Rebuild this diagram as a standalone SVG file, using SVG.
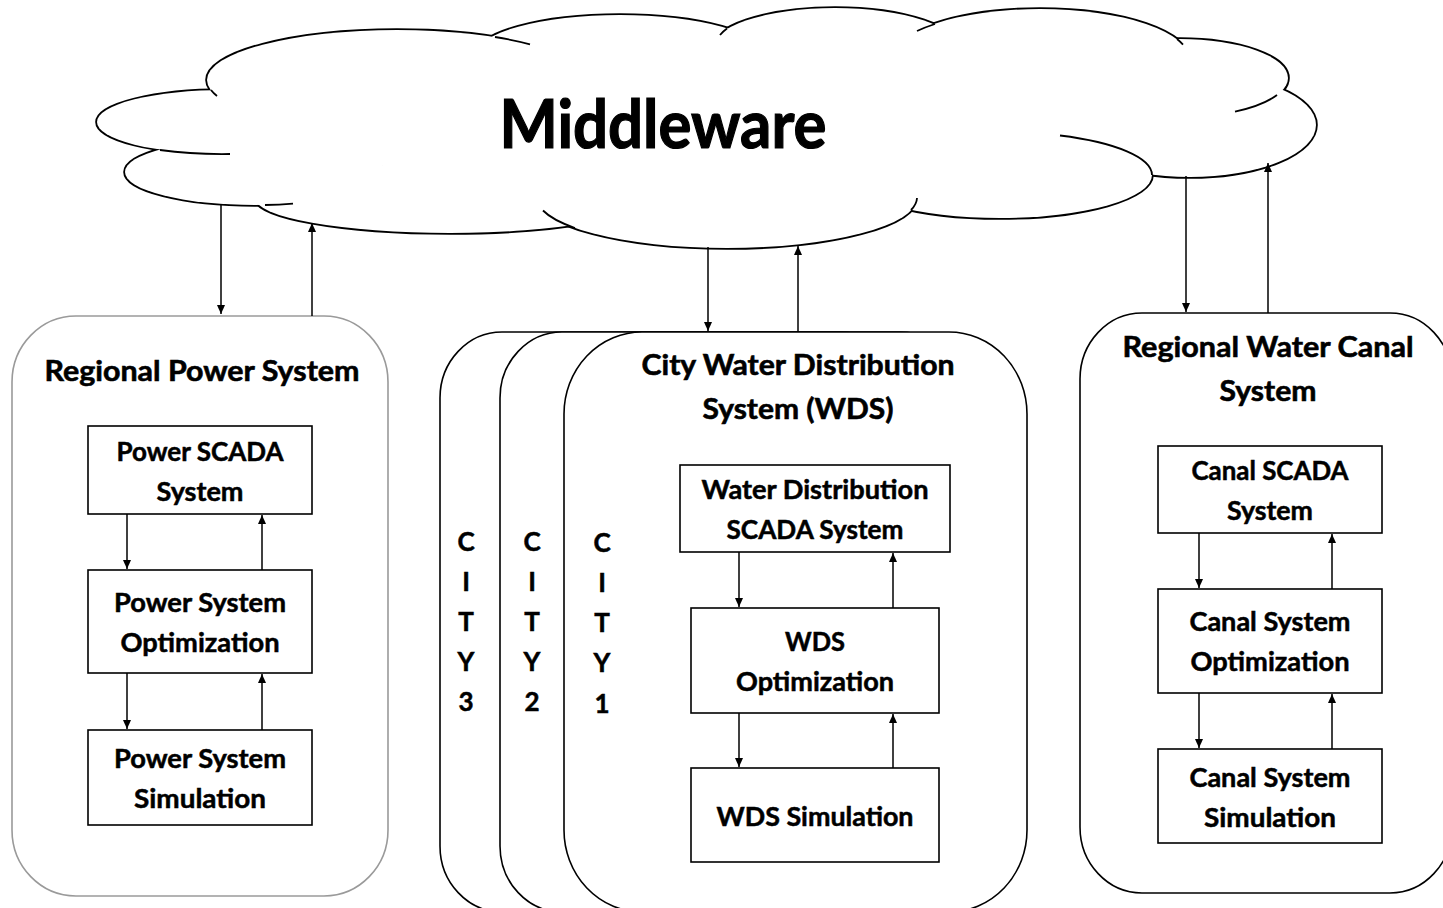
<svg xmlns="http://www.w3.org/2000/svg" width="1443" height="908" viewBox="0 0 1443 908">
<style>
text{font-family:Lato,"Liberation Sans",sans-serif;font-weight:bold;fill:#000;stroke:#000;stroke-width:0.5;text-anchor:middle}
.t{font-size:26px}
.h{font-size:29px;stroke-width:0.6}
.mw{font-size:66px;stroke-width:1.2}
.box{fill:#fff;stroke:#000;stroke-width:1.6}
.cont{fill:#fff;stroke:#000;stroke-width:1.6}
.cl1 ellipse{fill:#fff;stroke:#000;stroke-width:3.6}
.cl2 ellipse{fill:#fff;stroke:none}
.tail{fill:none;stroke:#000;stroke-width:1.8}
.ar{stroke:#000;stroke-width:1.5;marker-end:url(#ah)}
</style>
<defs>
<marker id="ah" markerWidth="9" markerHeight="8" refX="9" refY="4" orient="auto" markerUnits="userSpaceOnUse"><path d="M0,0 L9,4 L0,8 z" fill="#000"/></marker>
</defs>
<rect width="1443" height="908" fill="#fff"/>
<g id="middleware">
<g class="cl1">
<ellipse cx="397" cy="80" rx="190" ry="50"/>
<ellipse cx="225" cy="122" rx="128" ry="32"/>
<ellipse cx="255" cy="172" rx="130" ry="33"/>
<ellipse cx="450" cy="198" rx="195" ry="35"/>
<ellipse cx="727" cy="198" rx="190" ry="50"/>
<ellipse cx="1000" cy="175" rx="152" ry="43"/>
<ellipse cx="1190" cy="125" rx="126" ry="52"/>
<ellipse cx="1180" cy="78" rx="108" ry="39"/>
<ellipse cx="1040" cy="60" rx="150" ry="51"/>
<ellipse cx="620" cy="55" rx="144" ry="40"/>
<ellipse cx="835" cy="50" rx="125" ry="42"/>
</g>
<g class="cl2">
<ellipse cx="397" cy="80" rx="190" ry="50"/>
<ellipse cx="225" cy="122" rx="128" ry="32"/>
<ellipse cx="255" cy="172" rx="130" ry="33"/>
<ellipse cx="450" cy="198" rx="195" ry="35"/>
<ellipse cx="727" cy="198" rx="190" ry="50"/>
<ellipse cx="1000" cy="175" rx="152" ry="43"/>
<ellipse cx="1190" cy="125" rx="126" ry="52"/>
<ellipse cx="1180" cy="78" rx="108" ry="39"/>
<ellipse cx="1040" cy="60" rx="150" ry="51"/>
<ellipse cx="620" cy="55" rx="144" ry="40"/>
<ellipse cx="835" cy="50" rx="125" ry="42"/>
<ellipse cx="700" cy="120" rx="420" ry="70"/>
</g>
<path class="tail" d="M495,37 A190,50 0 0 1 530,44.3"/>
<path class="tail" d="M211,90 A190,50 0 0 0 217,96"/>
<path class="tail" d="M160,150 A128,32 0 0 0 230,154"/>
<path class="tail" d="M265,205 A130,33 0 0 0 293,203.6"/>
<path class="tail" d="M575,228 A190,50 0 0 1 543,210.5"/>
<path class="tail" d="M911,210 A190,50 0 0 0 917,198"/>
<path class="tail" d="M1060,135.5 A152,43 0 0 1 1152,175"/>
<path class="tail" d="M1277,95 A108,39 0 0 1 1235,111.6"/>
<path class="tail" d="M1177,39 A150,51 0 0 1 1183,44.6"/>
<path class="tail" d="M727,28.5 A125,42 0 0 0 720,35"/>
<path class="tail" d="M935,24 A150,51 0 0 0 917,31"/>
<text class="mw" x="663" y="148" textLength="327" lengthAdjust="spacingAndGlyphs">Middleware</text>
</g>
<g id="regional-power">
<rect x="12" y="316" width="376" height="580" rx="64" ry="66" fill="#fff" stroke="#9a9a9a" stroke-width="1.6"/>
<text class="h" x="202" y="381" textLength="315" lengthAdjust="spacingAndGlyphs">Regional Power System</text>
</g>
<g id="power-scada">
<rect class="box" x="88" y="426" width="224" height="88"/>
<text class="t" x="200" y="461" textLength="167" lengthAdjust="spacingAndGlyphs">Power SCADA</text>
<text class="t" x="200" y="501" textLength="87" lengthAdjust="spacingAndGlyphs">System</text>
</g>
<g id="power-opt">
<rect class="box" x="88" y="570" width="224" height="103"/>
<text class="t" x="200" y="612" textLength="172" lengthAdjust="spacingAndGlyphs">Power System</text>
<text class="t" x="200" y="652" textLength="159" lengthAdjust="spacingAndGlyphs">Optimization</text>
</g>
<g id="power-sim">
<rect class="box" x="88" y="730" width="224" height="95"/>
<text class="t" x="200" y="768" textLength="172" lengthAdjust="spacingAndGlyphs">Power System</text>
<text class="t" x="200" y="808" textLength="132" lengthAdjust="spacingAndGlyphs">Simulation</text>
</g>
<g id="city3">
<rect class="cont" x="440" y="332" width="463" height="580" rx="62" ry="66"/>
<text class="t" x="466" y="551">C</text>
<text class="t" x="466" y="591">I</text>
<text class="t" x="466" y="631">T</text>
<text class="t" x="466" y="671">Y</text>
<text class="t" x="466" y="711">3</text>
</g>
<g id="city2">
<rect class="cont" x="500" y="332" width="463" height="580" rx="62" ry="66"/>
<text class="t" x="532" y="551">C</text>
<text class="t" x="532" y="591">I</text>
<text class="t" x="532" y="631">T</text>
<text class="t" x="532" y="671">Y</text>
<text class="t" x="532" y="711">2</text>
</g>
<g id="city1">
<rect class="cont" x="564" y="332" width="463" height="580" rx="78" ry="82"/>
<text class="t" x="602" y="552">C</text>
<text class="t" x="602" y="592">I</text>
<text class="t" x="602" y="632">T</text>
<text class="t" x="602" y="672">Y</text>
<text class="t" x="602" y="713">1</text>
<text class="h" x="798" y="375" textLength="313" lengthAdjust="spacingAndGlyphs">City Water Distribution</text>
<text class="h" x="798" y="419" textLength="191" lengthAdjust="spacingAndGlyphs">System (WDS)</text>
</g>
<g id="wds-scada">
<rect class="box" x="680" y="465" width="270" height="87"/>
<text class="t" x="815" y="499" textLength="227" lengthAdjust="spacingAndGlyphs">Water Distribution</text>
<text class="t" x="815" y="539" textLength="177" lengthAdjust="spacingAndGlyphs">SCADA System</text>
</g>
<g id="wds-opt">
<rect class="box" x="691" y="608" width="248" height="105"/>
<text class="t" x="815" y="651" textLength="60" lengthAdjust="spacingAndGlyphs">WDS</text>
<text class="t" x="815" y="691" textLength="158" lengthAdjust="spacingAndGlyphs">Optimization</text>
</g>
<g id="wds-sim">
<rect class="box" x="691" y="768" width="248" height="94"/>
<text class="t" x="815" y="826" textLength="197" lengthAdjust="spacingAndGlyphs">WDS Simulation</text>
</g>
<g id="regional-canal">
<rect class="cont" x="1080" y="313" width="372" height="580" rx="62" ry="66"/>
<text class="h" x="1268" y="357" textLength="291" lengthAdjust="spacingAndGlyphs">Regional Water Canal</text>
<text class="h" x="1268" y="401" textLength="97" lengthAdjust="spacingAndGlyphs">System</text>
</g>
<g id="canal-scada">
<rect class="box" x="1158" y="446" width="224" height="87"/>
<text class="t" x="1270" y="480" textLength="157" lengthAdjust="spacingAndGlyphs">Canal SCADA</text>
<text class="t" x="1270" y="520" textLength="86" lengthAdjust="spacingAndGlyphs">System</text>
</g>
<g id="canal-opt">
<rect class="box" x="1158" y="589" width="224" height="104"/>
<text class="t" x="1270" y="631" textLength="161" lengthAdjust="spacingAndGlyphs">Canal System</text>
<text class="t" x="1270" y="671" textLength="159" lengthAdjust="spacingAndGlyphs">Optimization</text>
</g>
<g id="canal-sim">
<rect class="box" x="1158" y="749" width="224" height="94"/>
<text class="t" x="1270" y="787" textLength="161" lengthAdjust="spacingAndGlyphs">Canal System</text>
<text class="t" x="1270" y="827" textLength="132" lengthAdjust="spacingAndGlyphs">Simulation</text>
</g>
<g id="connectors">
<line class="ar" x1="221" y1="205" x2="221" y2="314"/>
<line class="ar" x1="312" y1="316" x2="312" y2="223"/>
<line class="ar" x1="708" y1="247" x2="708" y2="331"/>
<line class="ar" x1="798" y1="332" x2="798" y2="246"/>
<line class="ar" x1="1186" y1="176" x2="1186" y2="312"/>
<line class="ar" x1="1268" y1="313" x2="1268" y2="163"/>
<line class="ar" x1="127" y1="514" x2="127" y2="569"/>
<line class="ar" x1="262" y1="570" x2="262" y2="515"/>
<line class="ar" x1="127" y1="673" x2="127" y2="729"/>
<line class="ar" x1="262" y1="730" x2="262" y2="674"/>
<line class="ar" x1="739" y1="552" x2="739" y2="607"/>
<line class="ar" x1="893" y1="608" x2="893" y2="553"/>
<line class="ar" x1="739" y1="713" x2="739" y2="767"/>
<line class="ar" x1="893" y1="768" x2="893" y2="714"/>
<line class="ar" x1="1199" y1="533" x2="1199" y2="588"/>
<line class="ar" x1="1332" y1="589" x2="1332" y2="534"/>
<line class="ar" x1="1199" y1="693" x2="1199" y2="748"/>
<line class="ar" x1="1332" y1="749" x2="1332" y2="694"/>
</g>
</svg>
